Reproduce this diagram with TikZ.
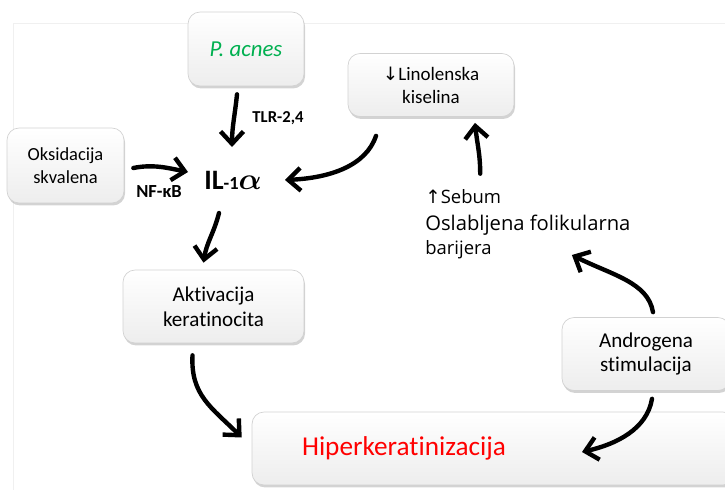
\documentclass[tikz,border=0pt]{standalone}
\usepackage{fontspec}
\setmainfont[RawFeature=-liga]{Carlito}
\newfontfamily\segoe{Open Sans}
\newfontfamily\symb{DejaVu Sans}
\usetikzlibrary{arrows.meta,shadows,positioning}
\definecolor{gruen}{RGB}{0,176,80}
\tikzset{
  kasten/.style={rounded corners=0.24cm, draw=gray!35, line width=0.4pt,
    top color=white, bottom color=gray!14, align=center, inner sep=0pt,
    drop shadow={opacity=0.35, shadow xshift=0.6pt, shadow yshift=-1.4pt}},
  pfeil/.style={line width=2.5pt, line cap=round, -{Straight Barb[length=7pt,width=13pt]}},
}
\begin{document}
\begin{tikzpicture}[x=0.02cm,y=-0.02cm]
    \useasboundingbox (0,0) rectangle (725,490);
    \draw[gray!12] (13,490) -- (13,23) -- (725,23);
    % Kaesten
    \node[kasten, minimum width=2.32cm, minimum height=1.48cm, text=gruen, font=\fontsize{13}{15}\selectfont\itshape] (pacnes) at (246,49) {P. acnes};
    \node[kasten, minimum width=3.32cm, minimum height=1.26cm, font=\fontsize{10.8}{13}\selectfont] (lino) at (431,85) {{\symb\fontsize{10.5}{13}\selectfont ↓}Linolenska\\kiselina};
    \node[kasten, minimum width=2.34cm, minimum height=1.5cm, font=\fontsize{10.5}{13}\selectfont] (oksid) at (65.5,165.5) {Oksidacija\\skvalena};
    \node[kasten, minimum width=3.62cm, minimum height=1.46cm, font=\fontsize{12}{14}\selectfont] (akt) at (213.5,306.5) {Aktivacija\\keratinocita};
    \node[kasten, minimum width=3.36cm, minimum height=1.46cm, font=\fontsize{12}{14}\selectfont] (andr) at (646,354) {Androgena\\stimulacija};
    \node[kasten, minimum width=9.66cm, minimum height=1.46cm, text width=7.66cm, inner xsep=1cm, align=left, text=red, font=\fontsize{15.5}{18}\selectfont] (hiper) at (493.5,448.5) {Hiperkeratinizacija};
    % Texte
    \node[font=\bfseries\boldmath\fontsize{16}{18}\selectfont] (il) at (233,180) {IL{\fontsize{10.5}{12}\selectfont-1}$\alpha$};
    \node[font=\bfseries\fontsize{9.5}{11}\selectfont] (tlr) at (278,118) {TLR-2,4};
    \node[font=\bfseries\fontsize{10.5}{12}\selectfont] (nfkb) at (159,192) {NF-κB};
    \node[anchor=west, inner xsep=0pt, font=\segoe\fontsize{10.5}{12}\selectfont] (sebum) at (425,197) {{\symb ↑}Sebum};
    \node[anchor=west, inner xsep=0pt, font=\segoe\fontsize{11.5}{13}\selectfont] (oslab) at (425,225) {Oslabljena folikularna};
    \node[anchor=west, inner xsep=0pt, font=\segoe\fontsize{10.5}{12}\selectfont] (barij) at (425,250) {barijera};
    % Pfeile
    \draw[pfeil] ([shift={(-9,8)}]pacnes.south) .. controls +(-2,20) and +(0,-20) .. ([shift={(-1,-33)}]il.center);
    \draw[pfeil] ([shift={(-55,19)}]lino.south) .. controls +(-10,30) and +(45,-2) .. ([shift={(52,0)}]il.center);
    \draw[pfeil] ([shift={(9,2.5)}]oksid.east) .. controls +(20,-4) and +(-20,-4) .. ([shift={(-45,-8)}]il.center);
    \draw[pfeil] ([shift={(-14,33)}]il.center) .. controls +(-5,20) and +(3,-20) .. ([shift={(-10,-7)}]akt.north);
    \draw[pfeil] ([shift={(-21,12)}]akt.south) .. controls +(-2,40) and +(-30,-30) .. ([shift={(-10,-11)}]hiper.west);
    \draw[pfeil] ([shift={(6,8)}]andr.south) .. controls +(-5,30) and +(35,-8) .. ([shift={(88.5,3.5)}]hiper.center);
    \draw[pfeil] ([shift={(7,-5)}]andr.north) .. controls +(-5,-30) and +(40,20) .. ([shift={(80,5)}]barij.east);
    \draw[pfeil] ([shift={(17,-10)}]sebum.north) .. controls +(0,-20) and +(2,20) .. ([shift={(44,6)}]lino.south);
\end{tikzpicture}
\end{document}
